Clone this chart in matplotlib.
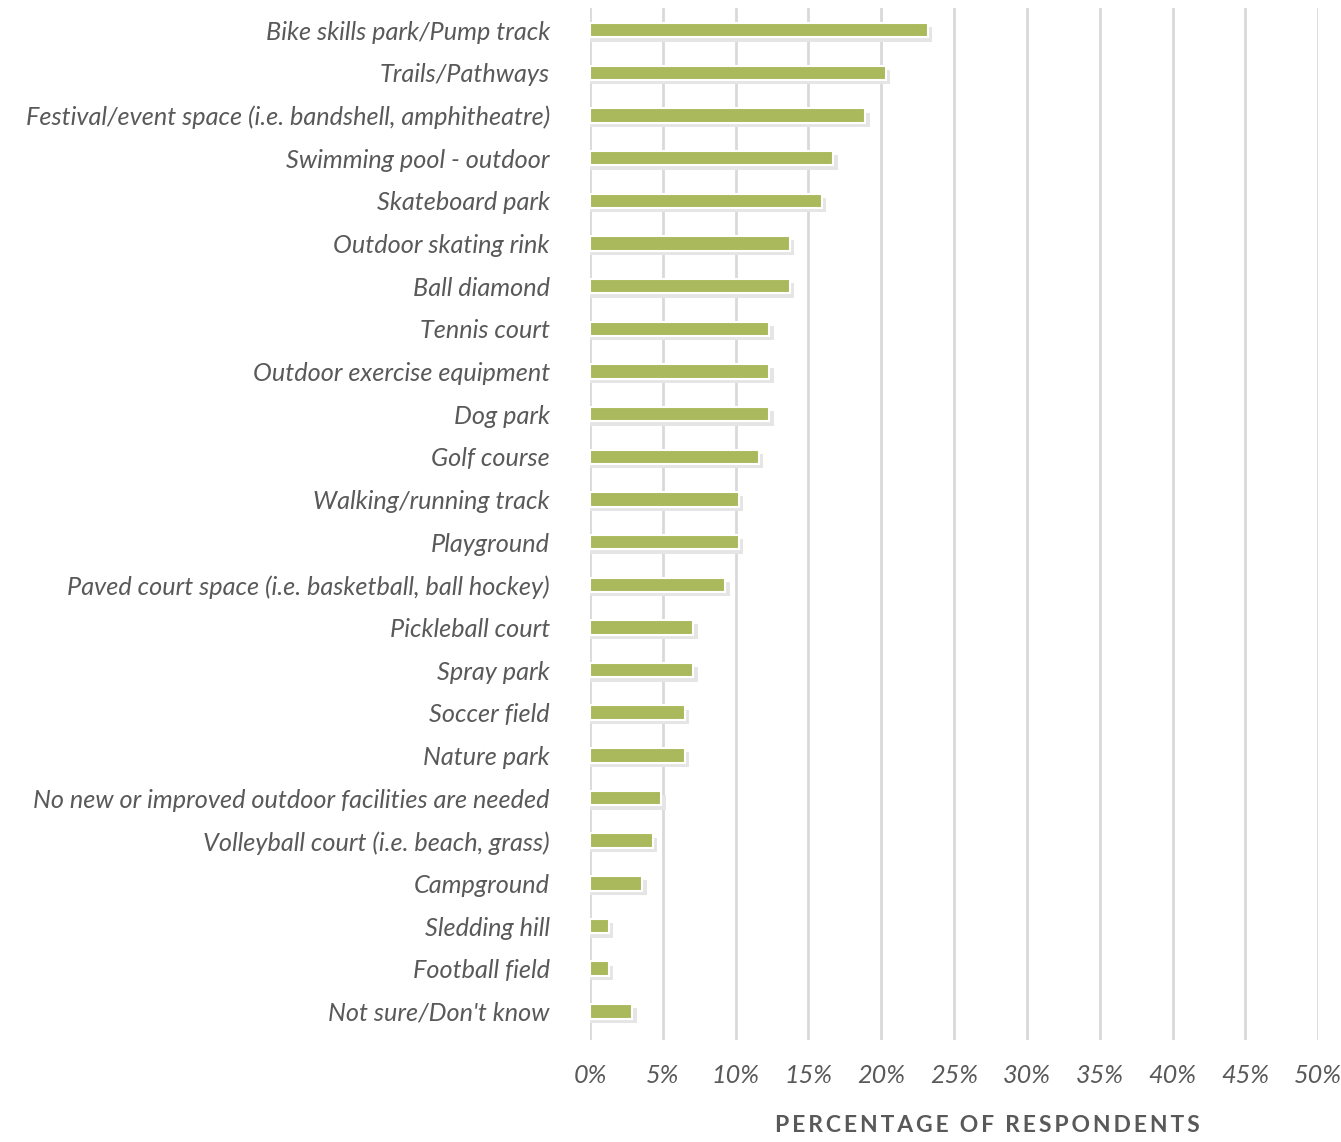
import matplotlib.pyplot as plt
from matplotlib.ticker import PercentFormatter

categories = [
    'Bike skills park/Pump track',
    'Trails/Pathways',
    'Festival/event space (i.e. bandshell, amphitheatre)',
    'Swimming pool - outdoor',
    'Skateboard park',
    'Outdoor skating rink',
    'Ball diamond',
    'Tennis court',
    'Outdoor exercise equipment',
    'Dog park',
    'Golf course',
    'Walking/running track',
    'Playground',
    'Paved court space (i.e. basketball, ball hockey)',
    'Pickleball court',
    'Spray park',
    'Soccer field',
    'Nature park',
    'No new or improved outdoor facilities are needed',
    'Volleyball court (i.e. beach, grass)',
    'Campground',
    'Sledding hill',
    'Football field',
    "Not sure/Don't know",
]
values = [23.2, 20.3, 18.9, 16.7, 15.9, 13.7, 13.7, 12.3, 12.3, 12.3, 11.6,
          10.2, 10.2, 9.3, 7.1, 7.1, 6.5, 6.5, 4.9, 4.3, 3.6, 1.3, 1.3, 2.9]
xticks = list(range(0, 55, 5))

GREEN = '#a9b95c'
GRID = '#d9d9d9'
TEXT = '#595959'
FONT = 'Lato'

fig = plt.figure(figsize=(13.41, 11.42), dpi=100)
ax = fig.add_axes([0.44, 0.089, 0.543, 0.904])

pos = list(range(len(categories)))
h = 0.34
# shadow behind each bar
ax.barh([p + 0.1 for p in pos], [v + 0.3 for v in values], height=h,
        color='#e5e5e5', zorder=2)
ax.barh(pos, values, height=h, color=GREEN, edgecolor='white',
        linewidth=1.5, zorder=3)

ax.set_xlim(0, 50)
ax.set_ylim(23.68, -0.52)
ax.set_xticks(xticks)
ax.xaxis.set_major_formatter(PercentFormatter(decimals=0))
ax.set_yticks(pos)
ax.set_yticklabels(categories)

ax.grid(axis='x', color=GRID, linewidth=2, zorder=1)
ax.set_axisbelow(True)
for s in ax.spines.values():
    s.set_visible(False)
ax.tick_params(length=0)
ax.tick_params(axis='y', pad=29)
ax.tick_params(axis='x', pad=17)

for lab in ax.get_yticklabels() + ax.get_xticklabels():
    lab.set_fontfamily(FONT)
    lab.set_fontstyle('italic')
    lab.set_fontsize(18.2)
    lab.set_color(TEXT)

fig.text(987 / 1341, 1 - 1126 / 1142, 'P E R C E N T A G E   O F   R E S P O N D E N T S'
         .replace(' ', '\u2009').replace('\u2009\u2009\u2009', '  '),
         ha='center', va='center', fontsize=16.5, fontweight='bold',
         color=TEXT, family=['Lato', 'DejaVu Sans'])

fig.savefig('out.png', dpi=100)
